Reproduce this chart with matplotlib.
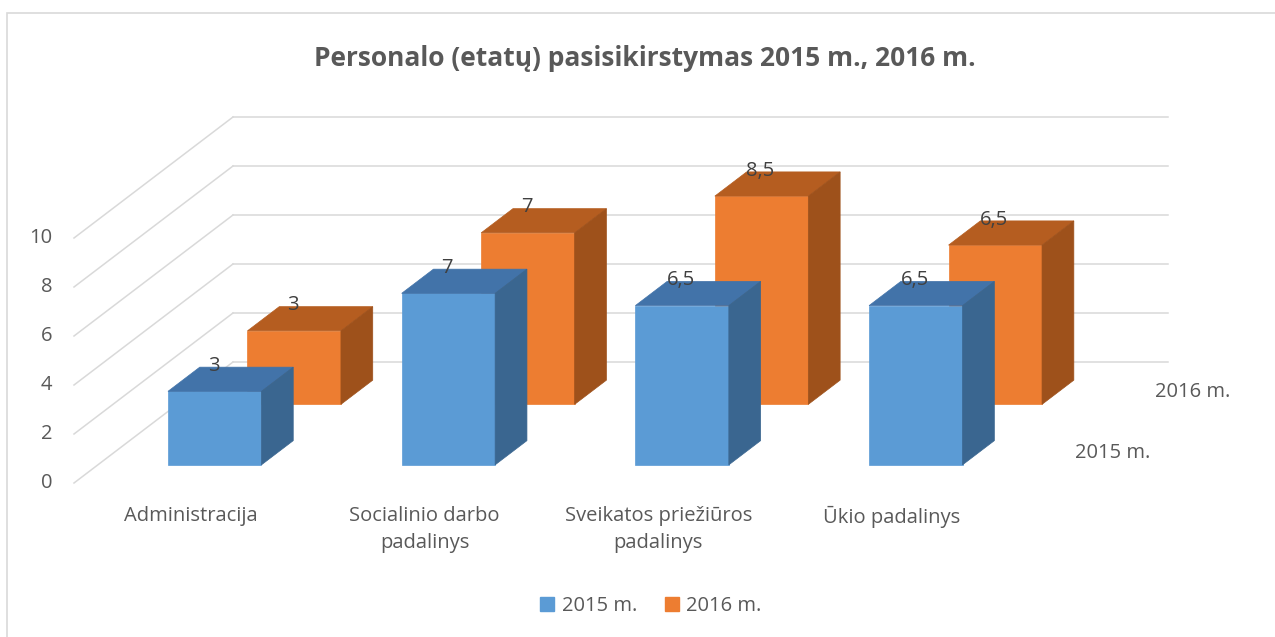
import matplotlib
matplotlib.use('Agg')
import matplotlib.pyplot as plt
from matplotlib.patches import Polygon, Patch, Rectangle

plt.rcParams['font.family'] = ['Open Sans', 'DejaVu Sans']

# Duomenys
categories = ['Administracija', 'Socialinio darbo\npadalinys',
              'Sveikatos priežiūros\npadalinys', 'Ūkio padalinys']
series = ['2015 m.', '2016 m.']
values_2015 = [3, 7, 6.5, 6.5]
values_2016 = [3, 7, 8.5, 6.5]
value_labels_2015 = ['3', '7', '6,5', '6,5']
value_labels_2016 = ['3', '7', '8,5', '6,5']
y_ticks = [0, 2, 4, 6, 8, 10]

# Spalvos: priekis, viršus, šonas
colors = {
    '2015 m.': ('#5B9BD5', '#4273A9', '#3A6690'),
    '2016 m.': ('#ED7D31', '#B55D20', '#9E511B'),
}

# Įstrižos projekcijos parametrai (gylis 0..1)
W, H = 1275, 637
PX_CAT, PX_VAL = 233.7, 24.5
ORIGIN = (74, 483)
DX, DY = 159 / PX_CAT, 121 / PX_VAL
ROW_Z = {'2015 m.': 0.15, '2016 m.': 0.65}
BAR_D = 0.2
BAR_L, BAR_W = 0.3, 0.4
FS = 14.5
TXT = '#595959'


def proj(x, z, v):
    return x + z * DX, v + z * DY


fig = plt.figure(figsize=(W / 100, H / 100), dpi=100)
ax = fig.add_axes([0, 0, 1, 1])
ax.set_xlim(-ORIGIN[0] / PX_CAT, (W - ORIGIN[0]) / PX_CAT)
ax.set_ylim(-(H - ORIGIN[1]) / PX_VAL, ORIGIN[1] / PX_VAL)
ax.axis('off')

grid_c = '#D9D9D9'
n = len(categories)
for t in y_ticks:
    # kairė siena
    p0, p1 = proj(0, 0, t), proj(0, 1, t)
    ax.plot([p0[0], p1[0]], [p0[1], p1[1]], color=grid_c, lw=1.1, zorder=1)
    # galinė siena
    q1 = proj(n, 1, t)
    ax.plot([p1[0], q1[0]], [p1[1], q1[1]], color=grid_c, lw=1.1, zorder=1)
    ax.text(p0[0] - 0.094, p0[1], str(t), ha='right', va='center',
            fontsize=FS, color=TXT)


def draw_bar(i, z, v, cols, z_order):
    x0, x1 = i + BAR_L, i + BAR_L + BAR_W
    front = [proj(x0, z, 0), proj(x1, z, 0), proj(x1, z, v), proj(x0, z, v)]
    top = [proj(x0, z, v), proj(x1, z, v), proj(x1, z + BAR_D, v), proj(x0, z + BAR_D, v)]
    side = [proj(x1, z, 0), proj(x1, z + BAR_D, 0), proj(x1, z + BAR_D, v), proj(x1, z, v)]
    for poly, c in zip([front, top, side], cols):
        ax.add_patch(Polygon(poly, closed=True, fc=c, ec=c, lw=0.5, zorder=z_order))


# pirmiausia galinė eilė
for s, vals, labs, zo in [('2016 m.', values_2016, value_labels_2016, 3),
                          ('2015 m.', values_2015, value_labels_2015, 5)]:
    z = ROW_Z[s]
    for i, (v, lab) in enumerate(zip(vals, labs)):
        draw_bar(i, z, v, colors[s], zo)
        lx = proj(i + 0.5, z, v)[0]
        ly = proj(i + 0.5, z + BAR_D, v)[1]
        ax.text(lx - 0.005, ly + 0.05, lab, ha='center', va='center', fontsize=FS,
                color='#404040', zorder=zo + 1)
    # eilės pavadinimas dešinėje
    rx, ry = proj(n, z + BAR_D / 2, 0)
    ax.text(rx + 0.115, ry, s, ha='left', va='center', fontsize=FS, color=TXT)

for i, cat in enumerate(categories):
    cx, cy = proj(i + 0.5, 0, 0)
    ax.text(cx, cy - 0.95, cat, ha='center', va='top', fontsize=FS,
            color=TXT, linespacing=1.45)

fig.text(0.506, 1 - 58 / H, 'Personalo (etatų) pasisikirstymas 2015 m., 2016 m.',
         ha='center', va='center', fontsize=19, fontweight='bold', color=TXT)

handles = [Patch(fc=colors[s][0], ec=colors[s][0], label=s) for s in series]
fig.legend(handles=handles, loc='center', bbox_to_anchor=(651 / W, 1 - 606 / H),
           ncol=2, frameon=False, handlelength=0.7, handleheight=0.7,
           handletextpad=0.35, columnspacing=1.4, fontsize=FS, labelcolor=TXT)

fig.patches.append(Rectangle((7 / W, -0.1), 1.2, 1 - 13 / H + 0.1, transform=fig.transFigure,
                             fill=False, ec='#D9D9D9', lw=1.2))

fig.savefig('out.png', dpi=100)
